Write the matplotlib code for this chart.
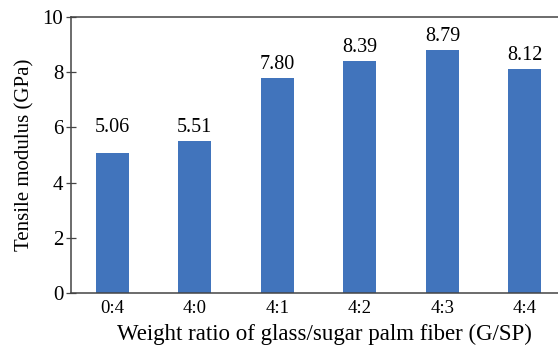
import matplotlib
matplotlib.use("Agg")
import matplotlib.pyplot as plt

categories = ["0:4", "4:0", "4:1", "4:2", "4:3", "4:4"]
values = [5.06, 5.51, 7.80, 8.39, 8.79, 8.12]
labels = ["5.06", "5.51", "7.80", "8.39", "8.79", "8.12"]
# heights at which the value labels sit in the original (5.06 label is raised to 5.51's level)
label_levels = [5.51, 5.51, 7.80, 8.39, 8.79, 8.12]

plt.rcParams['font.family'] = ['Liberation Serif', 'DejaVu Serif']

fig = plt.figure(figsize=(5.58, 3.45), dpi=100)
ax = fig.add_axes([71/558, 1 - 293/345, 1 - 71/558, (293 - 17)/345])

x = list(range(len(categories)))
ax.bar(x, values, width=0.4, color="#4174BC")
for xi, lv, lab in zip(x, label_levels, labels):
    ax.annotate(lab, (xi, lv), xytext=(0, 3), textcoords="offset points",
                ha="center", va="bottom", fontsize=14.5)

ax.set_xlim(-0.5, 5.4)
ax.set_ylim(0, 10)
ax.set_yticks([0, 2, 4, 6, 8, 10])
ax.set_xticks(x)
ax.set_xticklabels(categories)
ax.tick_params(axis="x", length=0, labelsize=13.5, pad=5)
ax.tick_params(axis="y", direction="inout", length=7, labelsize=15, pad=2, width=0.9,
               color="#444444")
for s in ["left", "top", "bottom"]:
    ax.spines[s].set_color("#444444")
    ax.spines[s].set_linewidth(1.1)
ax.spines["right"].set_visible(False)

ax.set_ylabel("Tensile modulus (GPa)", fontsize=15, labelpad=6)
ax.set_xlabel("Weight ratio of glass/sugar palm fiber (G/SP)", fontsize=16.5, labelpad=3)
ax.xaxis.set_label_coords(0.52, -0.11)

fig.savefig("out.png", dpi=100)
